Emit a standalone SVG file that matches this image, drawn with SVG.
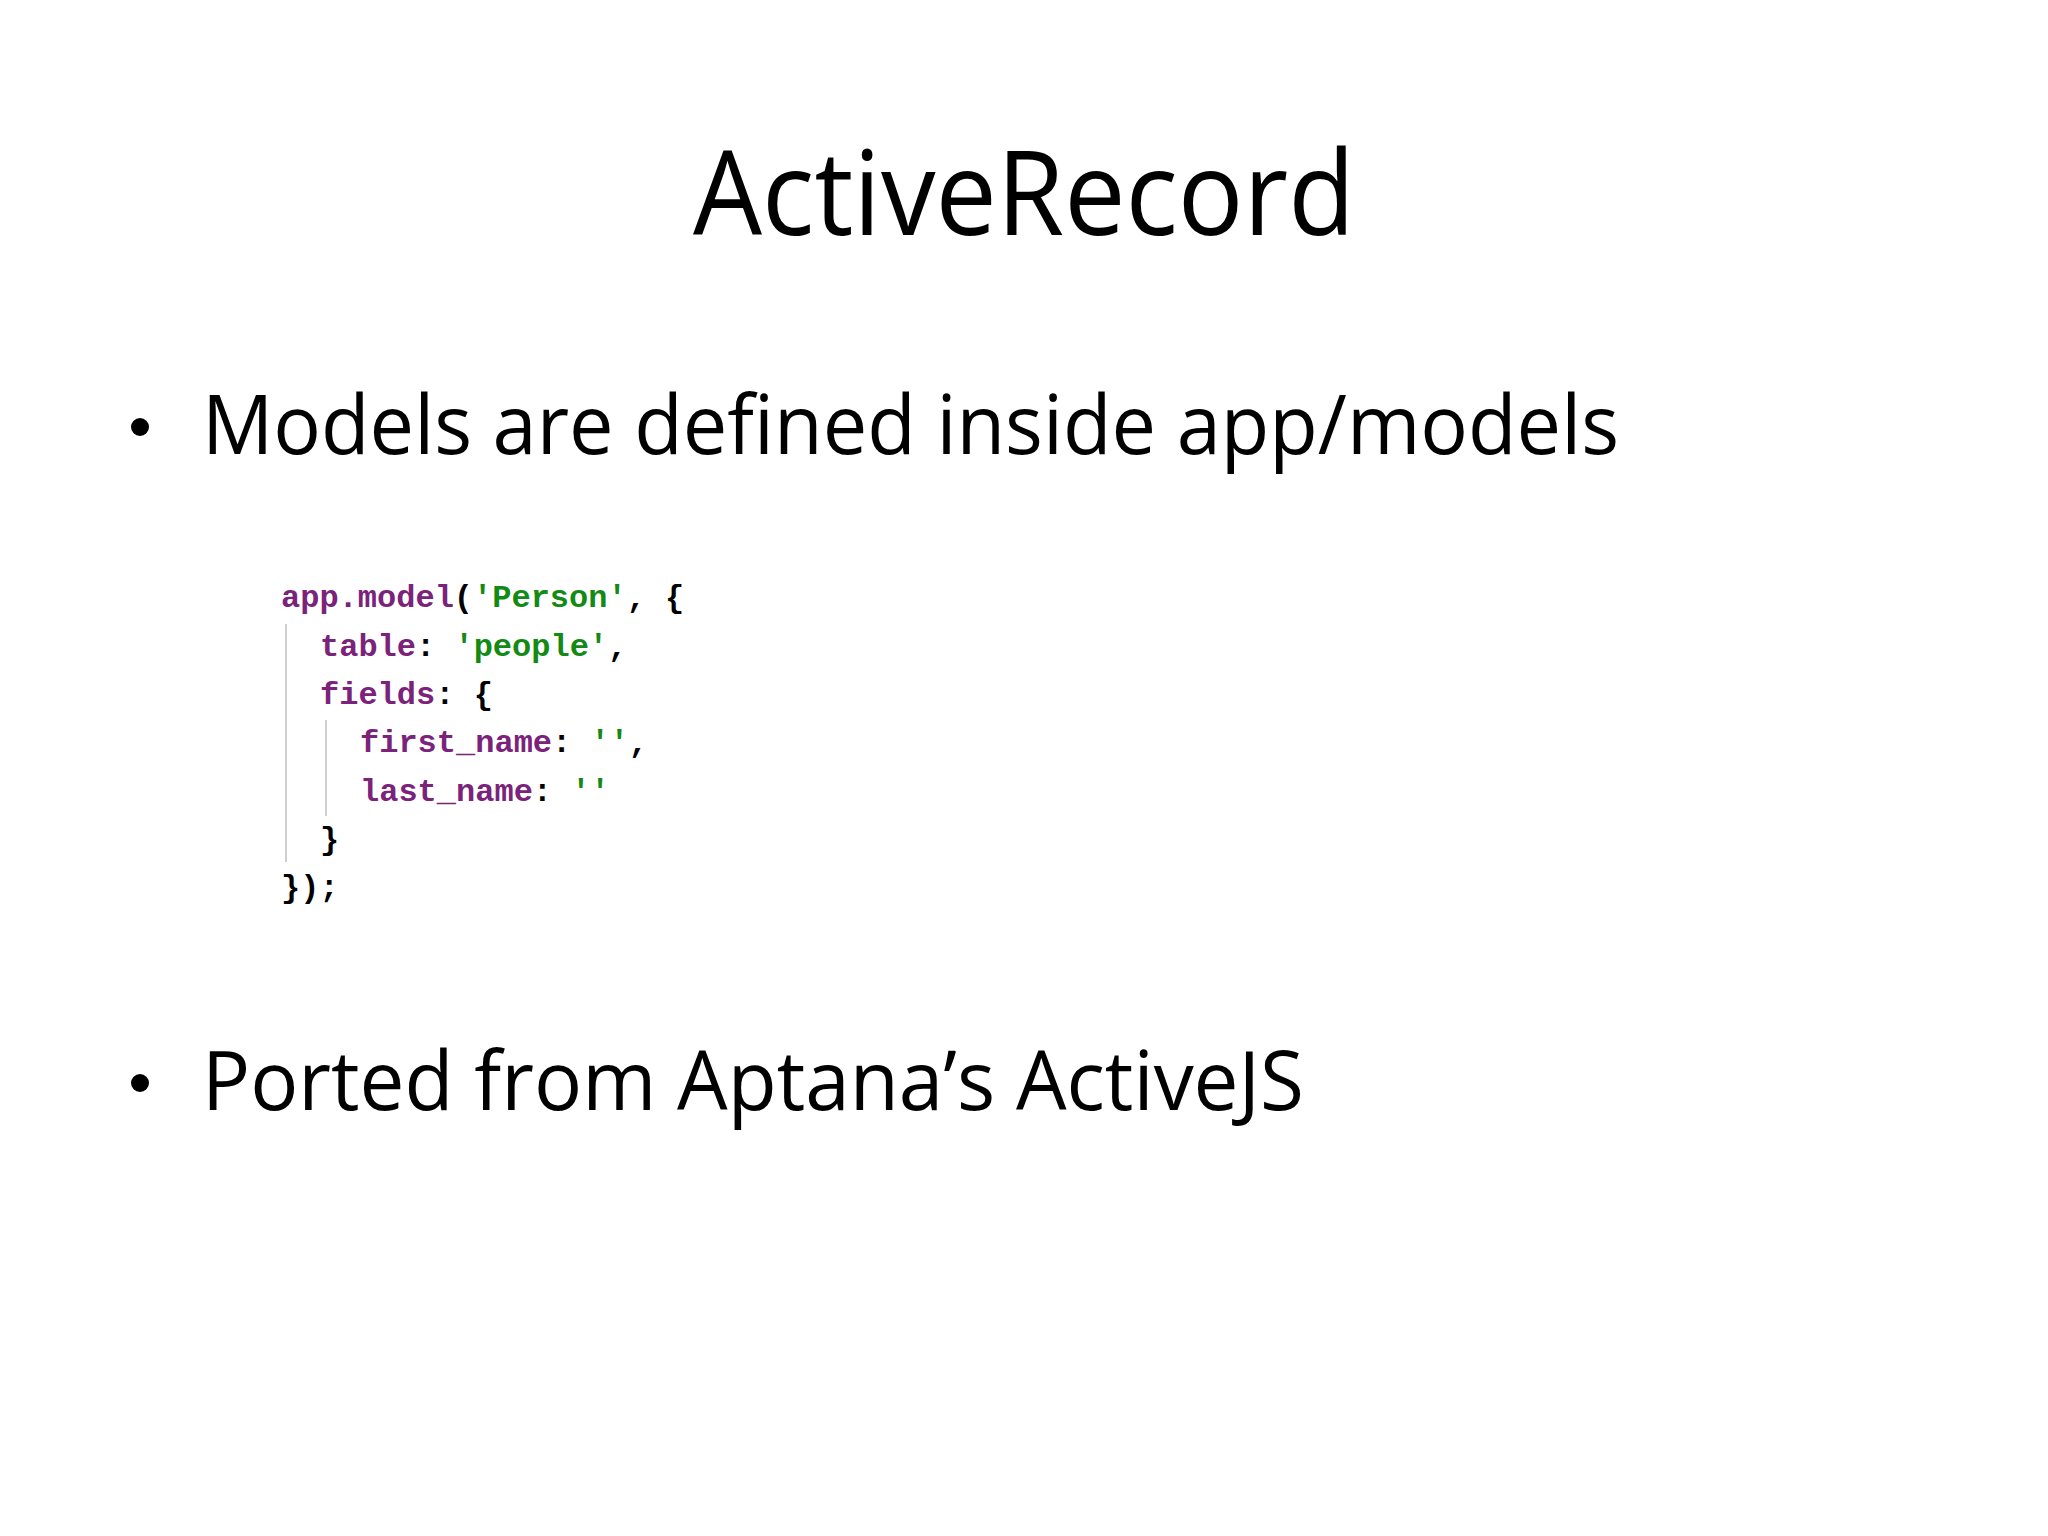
<svg xmlns="http://www.w3.org/2000/svg" width="2048" height="1536" viewBox="0 0 2048 1536">
<style>
.t{font-family:"Open Sans","Noto Sans",sans-serif;fill:#000}
.c{font-family:"Liberation Mono","Courier New",monospace;font-size:32px;font-weight:bold;fill:#000}
.k{fill:#7b237b}.s{fill:#138a13}
.g{stroke:#cfcfcf;stroke-width:2}
</style>
<rect width="2048" height="1536" fill="#fff"/>
<g id="title"><text class="t" x="1024" y="235" font-size="118" text-anchor="middle" textLength="662" lengthAdjust="spacingAndGlyphs">ActiveRecord</text></g>
<g id="bullet1"><circle cx="140" cy="427" r="9" fill="#000"/><text class="t" x="202" y="454" font-size="82" textLength="1417" lengthAdjust="spacingAndGlyphs">Models are defined inside app/models</text></g>
<g id="code">
<line class="g" x1="286" y1="624" x2="286" y2="862"/>
<line class="g" x1="326" y1="720" x2="326" y2="816"/>
<text class="c" x="281" y="607"><tspan class="k">app.model</tspan>(<tspan class="s">'Person'</tspan>, {</text>
<text class="c" x="320" y="656"><tspan class="k">table</tspan>: <tspan class="s">'people'</tspan>,</text>
<text class="c" x="320" y="704"><tspan class="k">fields</tspan>: {</text>
<text class="c" x="360" y="752"><tspan class="k">first_name</tspan>: <tspan class="s">''</tspan>,</text>
<text class="c" x="360" y="801"><tspan class="k">last_name</tspan>: <tspan class="s">''</tspan></text>
<text class="c" x="320" y="849">}</text>
<text class="c" x="281" y="897">});</text>
</g>
<g id="bullet2"><circle cx="140" cy="1083" r="9" fill="#000"/><text class="t" x="202" y="1110" font-size="82" textLength="1102" lengthAdjust="spacingAndGlyphs">Ported from Aptana’s ActiveJS</text></g>
</svg>
